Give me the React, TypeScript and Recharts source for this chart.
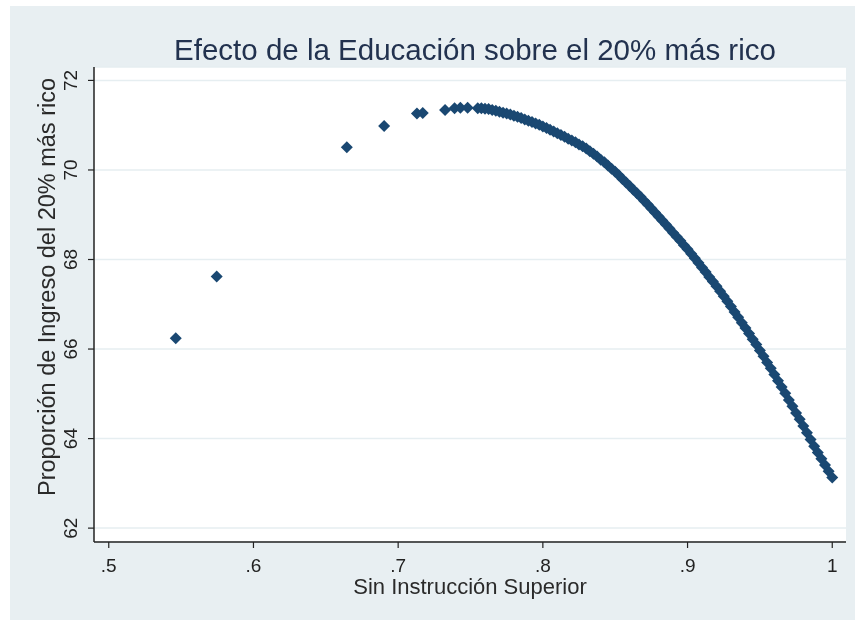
import { ScatterChart, Scatter, XAxis, YAxis, CartesianGrid, Label } from "recharts";

// Sin Instrucción Superior (x) vs Proporción de Ingreso del 20% más rico (y)
const outlierX = [0.5463, 0.5746, 0.6645, 0.6903, 0.713, 0.717, 0.7324, 0.739, 0.743, 0.748];
const outlierY = [66.24, 67.62, 70.51, 70.98, 71.26, 71.27, 71.34, 71.38, 71.39, 71.39];

const curveX = [
  0.755, 0.7575, 0.76, 0.7625, 0.765, 0.7675, 0.77, 0.7725, 0.775, 0.7775,
  0.78, 0.7825, 0.785, 0.7875, 0.79, 0.7925, 0.795, 0.7975, 0.8, 0.8025,
  0.805, 0.8075, 0.81, 0.8125, 0.815, 0.8175, 0.82, 0.8225, 0.825, 0.8275,
  0.83, 0.8325, 0.835, 0.8375, 0.84, 0.8425, 0.845, 0.8475, 0.85,
  0.8525, 0.855, 0.8575, 0.86, 0.8625, 0.865, 0.8675, 0.87, 0.8725, 0.875,
  0.8775, 0.88, 0.8825, 0.885, 0.8875, 0.89, 0.8925, 0.895, 0.8975, 0.9,
  0.9025, 0.905, 0.9075, 0.91, 0.9125, 0.915, 0.9175, 0.92, 0.9225,
  0.925, 0.9275, 0.93, 0.9325, 0.935, 0.9375, 0.94, 0.9425, 0.945, 0.9475,
  0.95, 0.9525, 0.955, 0.9575, 0.96, 0.9625, 0.965, 0.9675, 0.97,
  0.9725, 0.975, 0.9775, 0.98, 0.9825, 0.985, 0.9875, 0.99, 0.9925, 0.995, 0.9975, 1.0,
];
const curveY = [
  71.38, 71.38, 71.37, 71.36, 71.34, 71.32, 71.3, 71.28, 71.26, 71.24,
  71.21, 71.19, 71.16, 71.13, 71.1, 71.07, 71.04, 71.01, 70.97, 70.94,
  70.9, 70.86, 70.82, 70.78, 70.74, 70.7, 70.66, 70.62, 70.57, 70.53,
  70.48, 70.42, 70.36, 70.3, 70.23, 70.17, 70.1, 70.03, 69.96,
  69.88, 69.8, 69.72, 69.64, 69.56, 69.48, 69.4, 69.31, 69.23, 69.14,
  69.05, 68.96, 68.87, 68.78, 68.69, 68.6, 68.51, 68.42, 68.32, 68.23,
  68.13, 68.03, 67.93, 67.82, 67.72, 67.61, 67.51, 67.4, 67.29,
  67.18, 67.07, 66.95, 66.83, 66.71, 66.59, 66.47, 66.35, 66.22, 66.1,
  65.97, 65.84, 65.7, 65.57, 65.43, 65.29, 65.15, 65.01, 64.86,
  64.72, 64.57, 64.43, 64.28, 64.13, 63.98, 63.83, 63.69, 63.55, 63.41, 63.27, 63.13,
];

const xTicks = [0.5, 0.6, 0.7, 0.8, 0.9, 1];
const xTickLabels = [".5", ".6", ".7", ".8", ".9", "1"];
const yTicks = [62, 64, 66, 68, 70, 72];

const FONT = "'Liberation Sans', Arial, Helvetica, sans-serif";
const PANEL = "#e8eff2";
const MARKER = "#1a4872";
const AXIS = "#222";

const points = [...outlierX, ...curveX].map((x, i) => ({
  x,
  y: [...outlierY, ...curveY][i],
}));

const Diamond = (props: any) => {
  const { cx, cy } = props;
  if (cx == null || cy == null) return null;
  const r = 6;
  return (
    <polygon
      points={`${cx},${cy - r} ${cx + r},${cy} ${cx},${cy + r} ${cx - r},${cy}`}
      fill={MARKER}
    />
  );
};

const XTick = (props: any) => {
  const { x, payload } = props;
  const idx = xTicks.indexOf(payload.value);
  return (
    <text x={x} y={572} textAnchor="middle" fontSize={19} fontFamily={FONT} fill={AXIS}>
      {idx >= 0 ? xTickLabels[idx] : payload.value}
    </text>
  );
};

const YTick = (props: any) => {
  const { y, payload } = props;
  return (
    <text
      x={77}
      y={y}
      transform={`rotate(-90, 77, ${y})`}
      textAnchor="middle"
      fontSize={19}
      fontFamily={FONT}
      fill={AXIS}
    >
      {payload.value}
    </text>
  );
};

const YTitle = () => (
  <text
    x={55}
    y={287}
    transform="rotate(-90, 55, 287)"
    textAnchor="middle"
    fontSize={23.5}
    fontFamily={FONT}
    fill="#2a2a2a"
  >
    Proporción de Ingreso del 20% más rico
  </text>
);

export default function App() {
  return (
    <div style={{ position: "fixed", left: 0, top: 0, width: 855, height: 620, background: "#fff" }}>
      <div style={{ position: "absolute", left: 10, top: 6, width: 845, height: 614, background: PANEL }} />
      <div
        style={{
          position: "absolute",
          left: 0,
          top: 35,
          width: 950,
          textAlign: "center",
          fontFamily: FONT,
          fontSize: 29.5,
          lineHeight: 1,
          color: "#22324f",
          whiteSpace: "nowrap",
        }}
      >
        Efecto de la Educación sobre el 20% más rico
      </div>
      <div style={{ position: "absolute", left: 0, top: 0 }}>
        <ScatterChart width={855} height={620} margin={{ top: 67, right: 9, left: 0, bottom: 0 }}>
          <CartesianGrid horizontal vertical={false} stroke="#e6eef1" strokeWidth={1.5} fill="#fff" />
          <XAxis
            type="number"
            dataKey="x"
            domain={[0.4898, 1.0095]}
            ticks={xTicks}
            allowDataOverflow
            height={78}
            axisLine={{ stroke: AXIS, strokeWidth: 1.5 }}
            tickLine={{ stroke: AXIS, strokeWidth: 1.2 }}
            tickSize={6}
            tick={<XTick />}
          >
            <Label
              value="Sin Instrucción Superior"
              position="insideBottom"
              offset={26}
              style={{ fontSize: 22, fontFamily: FONT, fill: "#2a2a2a" }}
            />
          </XAxis>
          <YAxis
            type="number"
            dataKey="y"
            domain={[61.69, 72.3]}
            ticks={yTicks}
            allowDataOverflow
            width={94}
            axisLine={{ stroke: AXIS, strokeWidth: 1.5 }}
            tickLine={{ stroke: AXIS, strokeWidth: 1.2 }}
            tickSize={6}
            tick={<YTick />}
          >
            <Label content={<YTitle />} />
          </YAxis>
          <Scatter data={points} shape={<Diamond />} isAnimationActive={false} />
        </ScatterChart>
      </div>
    </div>
  );
}
